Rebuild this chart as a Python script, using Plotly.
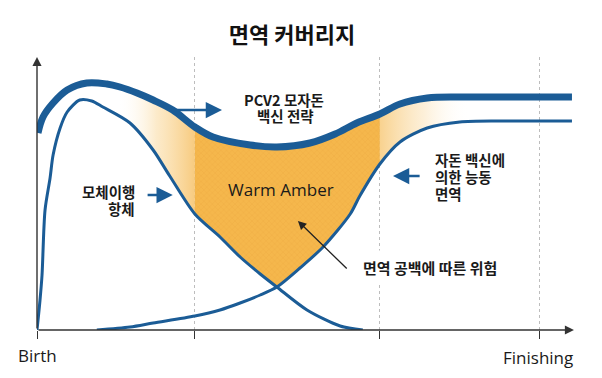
import plotly.graph_objects as go

# ---------------- data (relative age 0=Birth .. 100=Finishing, immunity level) -------------
total_x = [0.2, 1.2, 3.2, 6.0, 9.9, 13.9, 16.5, 19.9, 23.1, 27.0, 31.4, 35.0, 42.4, 47.7,
           54.3, 59.3, 63.6, 68.2, 72.2, 77.6, 84.1, 92.1, 106.4]
total_y = [78.8, 85.2, 90.8, 96.0, 98.8, 98.4, 97.2, 94.8, 92.0, 88.0, 81.2, 77.2, 74.0, 73.2,
           74.8, 78.4, 82.8, 86.4, 90.4, 92.8, 93.2, 93.2, 93.2]

maternal_x = [0, 0.6, 1.0, 1.6, 2.6, 3.2, 4.6, 6.0, 8.5, 10.9, 13.1, 18.5, 23.1, 26.4, 31.4,
              36.4, 40.4, 44.4, 47.7, 53.7, 60.3, 64.8]
maternal_y = [0, 12, 22, 48, 60.8, 70, 80.8, 87.2, 92, 91.6, 89.2, 82.8, 72, 61.6, 46.4,
              37.2, 29.2, 22.4, 17.2, 8, 1.6, 0]

active_x = [11.9, 18.5, 23.1, 31.4, 36.4, 40.4, 44.4, 47.7, 52.3, 56.9, 62.3, 64.2, 68.2,
            72.2, 77.6, 84.1, 92.1, 106.4]
active_y = [0, 1.2, 2.8, 5.6, 8, 10.8, 14, 17.2, 24.8, 33.2, 46.4, 53.6, 66.4, 75.2, 80.8,
            83.2, 83.6, 83.6]

tick_vals = [0, 31.4, 68.2, 100]
tick_text = ["Birth", "", "", "Finishing"]
gap_start, crossing, gap_end = 31.4, 47.7, 68.2

BLUE = "#1B5C96"
KR = "Noto Sans CJK KR"
LAT = "Open Sans"


def sel(xs, ys, lo, hi):
    pts = [(x, y) for x, y in zip(xs, ys) if lo <= x <= hi]
    return [p[0] for p in pts], [p[1] for p in pts]


fig = go.Figure()

# left fading zone (between maternal antibodies and total)
lx, ly = sel(maternal_x, maternal_y, 13.0, gap_start)
ux, uy = sel(total_x, total_y, 13.5, gap_start)
fig.add_trace(go.Scatter(x=lx, y=ly, mode="lines", line=dict(width=0), hoverinfo="skip",
                         showlegend=False))
fig.add_trace(go.Scatter(x=ux, y=uy, mode="lines", line=dict(width=0, shape="spline"),
                         fill="tonexty", hoverinfo="skip", showlegend=False,
                         fillgradient=dict(type="horizontal", start=16, stop=gap_start,
                                           colorscale=[[0, "rgba(255,255,255,0)"],
                                                       [0.5, "rgba(250,218,160,0.55)"],
                                                       [1, "rgba(247,200,120,0.95)"]])))

# middle immunity gap
m1x, m1y = sel(maternal_x, maternal_y, gap_start, crossing)
a1x, a1y = sel(active_x, active_y, crossing + 0.01, gap_end)
ux, uy = sel(total_x, total_y, gap_start, gap_end)
fig.add_trace(go.Scatter(x=m1x + a1x, y=m1y + a1y, mode="lines", line=dict(width=0),
                         hoverinfo="skip", showlegend=False))
fig.add_trace(go.Scatter(x=ux, y=uy, mode="lines", line=dict(width=0, shape="spline"),
                         fill="tonexty", fillcolor="#F5B548", hoverinfo="skip", showlegend=False,
                         fillpattern=dict(shape="x", size=4, solidity=0.25, fgcolor="#EAA53A",
                                          bgcolor="#F5B74C")))

# right fading zone (between active immunity and total)
lx, ly = sel(active_x, active_y, gap_end, 92.5)
ux, uy = sel(total_x, total_y, gap_end, 92.5)
fig.add_trace(go.Scatter(x=lx, y=ly, mode="lines", line=dict(width=0), hoverinfo="skip",
                         showlegend=False))
fig.add_trace(go.Scatter(x=ux, y=uy, mode="lines", line=dict(width=0, shape="spline"),
                         fill="tonexty", hoverinfo="skip", showlegend=False,
                         fillgradient=dict(type="horizontal", start=gap_end, stop=86,
                                           colorscale=[[0, "rgba(248,205,130,0.9)"],
                                                       [0.5, "rgba(251,225,180,0.5)"],
                                                       [1, "rgba(255,255,255,0)"]])))

# curves
fig.add_trace(go.Scatter(x=maternal_x, y=maternal_y, mode="lines",
                         line=dict(color=BLUE, width=3, shape="spline", smoothing=0.8),
                         showlegend=False, hoverinfo="skip"))
fig.add_trace(go.Scatter(x=active_x, y=active_y, mode="lines",
                         line=dict(color=BLUE, width=3, shape="spline", smoothing=0.8),
                         showlegend=False, hoverinfo="skip"))
fig.add_trace(go.Scatter(x=total_x, y=total_y, mode="lines",
                         line=dict(color=BLUE, width=7, shape="spline"),
                         showlegend=False, hoverinfo="skip"))

ann = []
# axes with arrowheads
ann.append(dict(x=0, y=109.2, ax=0, ay=0, xref="x", yref="y", axref="x", ayref="y", text="",
                showarrow=True, arrowhead=2, arrowsize=1.3, arrowwidth=1.4, arrowcolor="#333"))
ann.append(dict(x=106.8, y=0, ax=0, ay=0, xref="x", yref="y", axref="x", ayref="y", text="",
                showarrow=True, arrowhead=2, arrowsize=1.3, arrowwidth=1.4, arrowcolor="#333"))

# blue pointer arrows
for (x0, y0, x1, y1) in [(26.5, 88, 36.8, 88), (21.7, 54, 27.0, 54), (76.4, 61.6, 70.8, 61.6)]:
    ann.append(dict(x=x1, y=y1, ax=x0, ay=y0, xref="x", yref="y", axref="x", ayref="y", text="",
                    showarrow=True, arrowhead=2, arrowsize=1.25, arrowwidth=2.6, arrowcolor=BLUE))
# black pointer arrow
ann.append(dict(x=51.9, y=43.6, ax=61.9, ay=24, xref="x", yref="y", axref="x", ayref="y",
                text="", showarrow=True, arrowhead=2, arrowsize=1.3, arrowwidth=1.3,
                arrowcolor="#222"))

labels = [
    ("PCV2 모자돈", 49.1, 92.4, "center", KR, 14.5, "bold", None),
    ("백신 전략", 49.5, 86.0, "center", KR, 14.5, "bold", None),
    ("모체이행", 19.9, 55.6, "right", KR, 14.5, "bold", None),
    ("항체", 19.9, 48.8, "right", KR, 14.5, "bold", None),
    ("자돈 백신에", 78.8, 68.4, "left", KR, 14.5, "bold", None),
    ("의한 능동", 78.8, 61.6, "left", KR, 14.5, "bold", None),
    ("면역", 78.8, 54.8, "left", KR, 14.5, "bold", None),
    ("Warm Amber", 48.5, 56.4, "center", LAT, 17, "normal", None),
    ("면역 공백에 따른 위험", 63.4, 25.2, "left", KR, 15, "bold", "white"),
]
for t, x, y, xa, fam, sz, wt, bg in labels:
    d = dict(x=x, y=y, xref="x", yref="y", text=t, showarrow=False, xanchor=xa,
             yanchor="middle", font=dict(family=fam, size=sz, color="#1a1a1a", weight=wt))
    if bg:
        d.update(bgcolor=bg, borderpad=6)
    ann.append(d)

# Birth / Finishing labels under the axis (paper y below plot)
for t, x, yp in [("Birth", 0, -0.092), ("Finishing", 99.6, -0.099)]:
    ann.append(dict(x=x, y=yp, xref="x", yref="paper", text=t, showarrow=False,
                    xanchor="center", yanchor="middle",
                    font=dict(family=LAT, size=17, color="#1a1a1a")))

# page body has an 8px margin: figure is 586x362 drawn from (8,8)
W, H = 586, 362
fig.update_layout(
    width=W, height=H, autosize=False,
    margin=dict(l=29, r=14, t=49, b=40),
    paper_bgcolor="white", plot_bgcolor="white",
    title=dict(text="면역 커버리지", x=284 / W, xanchor="center", y=1 - 27 / H,
               yanchor="middle", font=dict(family=KR, size=22, color="#111", weight="bold")),
    xaxis=dict(range=[0, 108], tickvals=tick_vals, ticktext=tick_text, showticklabels=False,
               ticks="outside", ticklen=8, tickwidth=1.4, tickcolor="#333",
               showgrid=True, gridcolor="#bdbdbd", griddash="dot", gridwidth=1,
               zeroline=False, showline=False, fixedrange=True),
    yaxis=dict(range=[0, 109.2], showticklabels=False, showgrid=False, zeroline=False,
               showline=False, ticks="", fixedrange=True),
    annotations=ann,
    showlegend=False,
)

fig.write_html("out.html")
